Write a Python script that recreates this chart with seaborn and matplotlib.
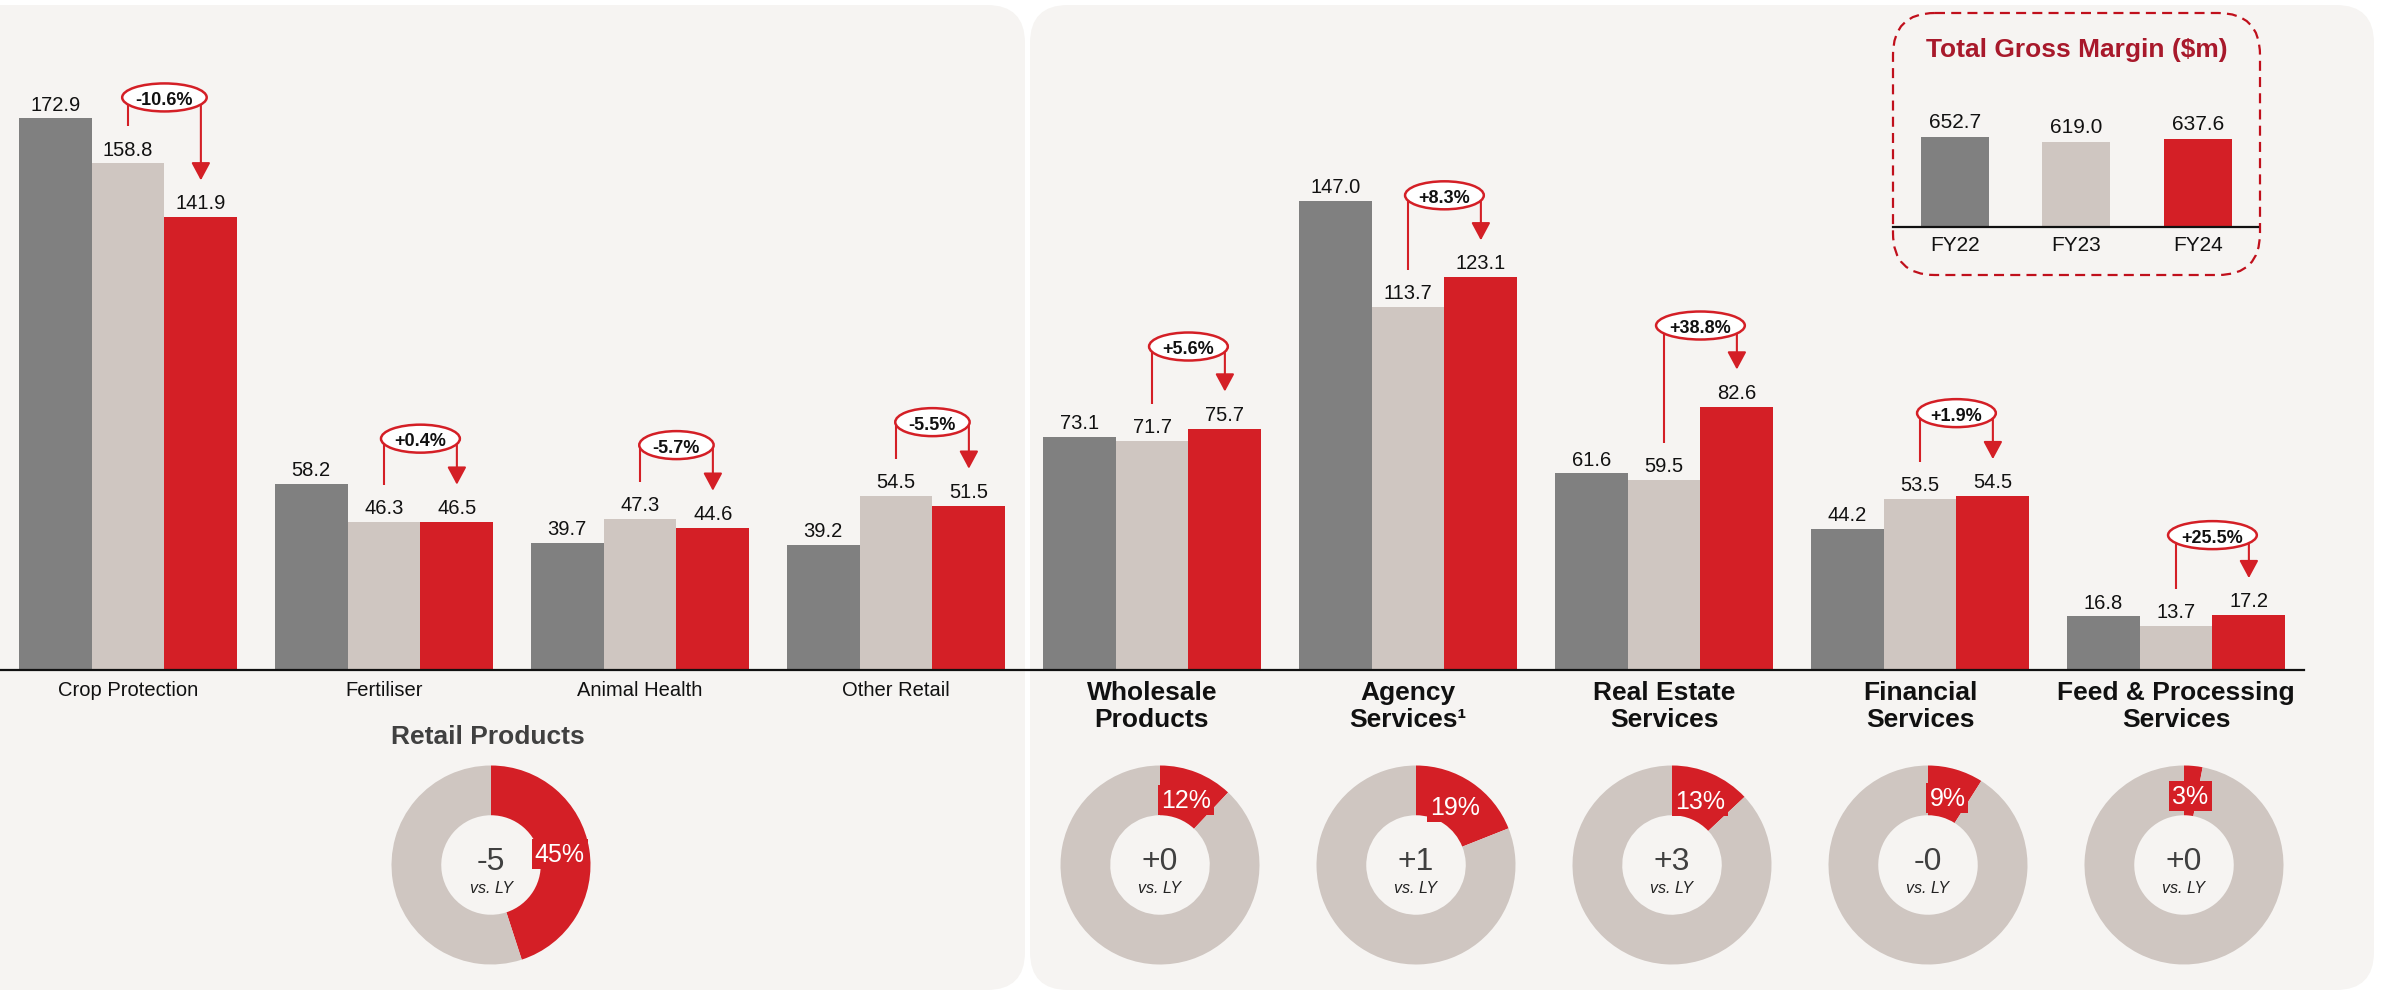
import numpy as np
import pandas as pd
import matplotlib
matplotlib.use("Agg")
import matplotlib.pyplot as plt
from matplotlib.patches import FancyBboxPatch, Ellipse
import seaborn as sns

# ---- data -------------------------------------------------------------
segments = ["Crop Protection", "Fertiliser", "Animal Health", "Other Retail",
            "Wholesale\nProducts", "Agency\nServices\u00b9", "Real Estate\nServices",
            "Financial\nServices", "Feed & Processing\nServices"]
years = ["FY22", "FY23", "FY24"]
fy22 = [172.9, 58.2, 39.7, 39.2, 73.1, 147.0, 61.6, 44.2, 16.8]
fy23 = [158.8, 46.3, 47.3, 54.5, 71.7, 113.7, 59.5, 53.5, 13.7]
fy24 = [141.9, 46.5, 44.6, 51.5, 75.7, 123.1, 82.6, 54.5, 17.2]
total_margin = [652.7, 619.0, 637.6]

mix_share = [45, 12, 19, 13, 9, 3]          # FY24 share of gross margin, %
mix_change = ["-5", "+0", "+1", "+3", "-0", "+0"]  # pts vs last year

# ---- style ------------------------------------------------------------
GREY = "#808080"
TAUPE = "#cfc6c1"
RED = "#d41f26"
DARK_RED = "#a8192b"
PANEL = "#f6f4f2"
palette = dict(zip(years, [GREY, TAUPE, RED]))

sns.set_style("white")
plt.rcParams["font.family"] = ["Liberation Sans", "DejaVu Sans"]

W, H = 2382, 995
fig = plt.figure(figsize=(W / 100, H / 100), dpi=100)
fig.patch.set_facecolor("white")


def fx(x):
    return x / W


def fy(y):
    return 1 - y / H


# background panels (pixel coordinates, y downwards)
bg = fig.add_axes([0, 0, 1, 1], zorder=-10)
bg.set_xlim(0, W)
bg.set_ylim(H, 0)
bg.axis("off")
for x0, x1 in [(-60, 1025), (1030, 2374)]:
    bg.add_patch(FancyBboxPatch((x0, 6), x1 - x0, 985,
                                boxstyle="round,pad=0,rounding_size=38",
                                fc=PANEL, ec="none"))
# dashed frame around the total margin chart
bg.add_patch(FancyBboxPatch((1893, 14), 367, 262,
                            boxstyle="round,pad=0,rounding_size=42",
                            fc="none", ec="#c0101c", lw=1.6,
                            linestyle=(0, (4.5, 2.8))))

# ---- main grouped bar chart ------------------------------------------
BASE = 671        # baseline, px from top
K = 3.19          # px per $m
TOPV = 200
ax = fig.add_axes([0, fy(BASE), 2304 / W, TOPV * K / H])
ax.patch.set_alpha(0)

df = pd.DataFrame({
    "segment": np.repeat(segments, 3),
    "year": years * len(segments),
    "value": np.column_stack([fy22, fy23, fy24]).ravel(),
})
BAR_W = 0.854
sns.barplot(data=df, x="segment", y="value", hue="year", order=segments,
            hue_order=years, palette=palette, width=BAR_W, gap=0,
            saturation=1, errorbar=None, legend=False, ax=ax, linewidth=0)
for cont in ax.containers:
    ax.bar_label(cont, fmt="%.1f", padding=3.5, fontsize=14.5, color="#111111")

ax.set_xlim(-0.5, len(segments) - 0.5)
ax.set_ylim(0, TOPV)
ax.set_xlabel("")
ax.set_ylabel("")
ax.set_yticks([])
for s in ["left", "right", "top"]:
    ax.spines[s].set_visible(False)
ax.spines["bottom"].set_color("#111111")
ax.spines["bottom"].set_linewidth(1.6)
ax.tick_params(axis="x", length=0, pad=7.5)
for j, lab in enumerate(ax.get_xticklabels()):
    lab.set_color("#111111")
    if j < 4:
        lab.set_fontsize(14.5)
    else:
        lab.set_fontsize(19)
        lab.set_fontweight("bold")
        lab.set_linespacing(1.16)

# year-on-year change callouts (FY23 -> FY24)
bw = BAR_W / 3
px_per_x = 2304 / len(segments)
ring_lift_px = [66, 83, 74, 74, 82, 82, 81, 83, 80]
gap_u = 37 / K
renderer = fig.canvas.get_renderer()
for i in range(len(segments)):
    a, b = fy23[i], fy24[i]
    x23, x24 = i, i + bw
    oy = max(a, b) + ring_lift_px[i] / K
    ax.plot([x23, x23], [a + gap_u, oy], color=RED, lw=1.5,
            solid_capstyle="butt", clip_on=False, zorder=4)
    ax.annotate("", xy=(x24, b + gap_u), xytext=(x24, oy),
                arrowprops=dict(arrowstyle="-|>,head_length=0.54,head_width=0.29",
                                mutation_scale=20, color=RED, lw=1.5,
                                shrinkA=0, shrinkB=0),
                annotation_clip=False, zorder=4)
    pct = f"{(b / a - 1) * 100:+.1f}%"
    t = ax.text(i + bw / 2, oy, pct, ha="center", va="center_baseline",
                fontsize=13, weight="bold", color="#111111", zorder=7,
                clip_on=False)
    wpx = t.get_window_extent(renderer).width + 27
    ax.add_patch(Ellipse((i + bw / 2, oy), wpx / px_per_x, 28 / K,
                         fc="white", ec=RED, lw=1.8, zorder=6, clip_on=False))

# ---- total gross margin inset ----------------------------------------
ax2 = fig.add_axes([fx(1893), fy(228), 365 / W, 110.4 / H])
ax2.patch.set_alpha(0)
tdf = pd.DataFrame({"year": years, "value": total_margin})
sns.barplot(data=tdf, x="year", y="value", hue="year", palette=palette,
            width=0.56, saturation=1, errorbar=None, legend=False, ax=ax2,
            linewidth=0)
for cont in ax2.containers:
    ax2.bar_label(cont, fmt="%.1f", padding=4, fontsize=15, color="#111111")
ax2.set_ylim(0, 800)
ax2.set_xlim(-0.51, 2.494)
ax2.set_xlabel("")
ax2.set_ylabel("")
ax2.set_yticks([])
for s in ["left", "right", "top"]:
    ax2.spines[s].set_visible(False)
ax2.spines["bottom"].set_color("#111111")
ax2.spines["bottom"].set_linewidth(1.6)
ax2.tick_params(axis="x", length=0, pad=6, labelsize=15, labelcolor="#111111")
fig.text(fx(2077), fy(50), "Total Gross Margin ($m)", ha="center", va="center",
         fontsize=19, weight="bold", color=DARK_RED)

# ---- gross margin mix donuts -----------------------------------------
fig.text(fx(488), fy(737), "Retail Products", ha="center", va="center",
         fontsize=19, weight="bold", color="#404040")
donut_x = [491, 1160, 1416, 1672, 1928, 2184]
DY, R = 866, 99.5
for cx, share, chg in zip(donut_x, mix_share, mix_change):
    d = fig.add_axes([fx(cx - R), fy(DY + R), 2 * R / W, 2 * R / H])
    d.pie([share, 100 - share], colors=[RED, TAUPE], startangle=90,
          counterclock=False, wedgeprops=dict(width=0.5, linewidth=0))
    d.set_xlim(-1, 1)
    d.set_ylim(-1, 1)
    d.axis("off")
    th = np.deg2rad(90 - 3.6 * share / 2)
    d.text(0.7 * np.cos(th), 0.7 * np.sin(th), f"{share}%", ha="center",
           va="center", color="white", fontsize=18, zorder=5, clip_on=False,
           bbox=dict(boxstyle="square,pad=0.12", fc=RED, ec="none"))
    d.text(0, 0.045, chg, ha="center", va="center", fontsize=23, color="#404040")
    d.text(0, -0.23, "vs. LY", ha="center", va="center", fontsize=11.5,
           style="italic", color="#222222")

fig.savefig("out.png", dpi=100, facecolor="white")
